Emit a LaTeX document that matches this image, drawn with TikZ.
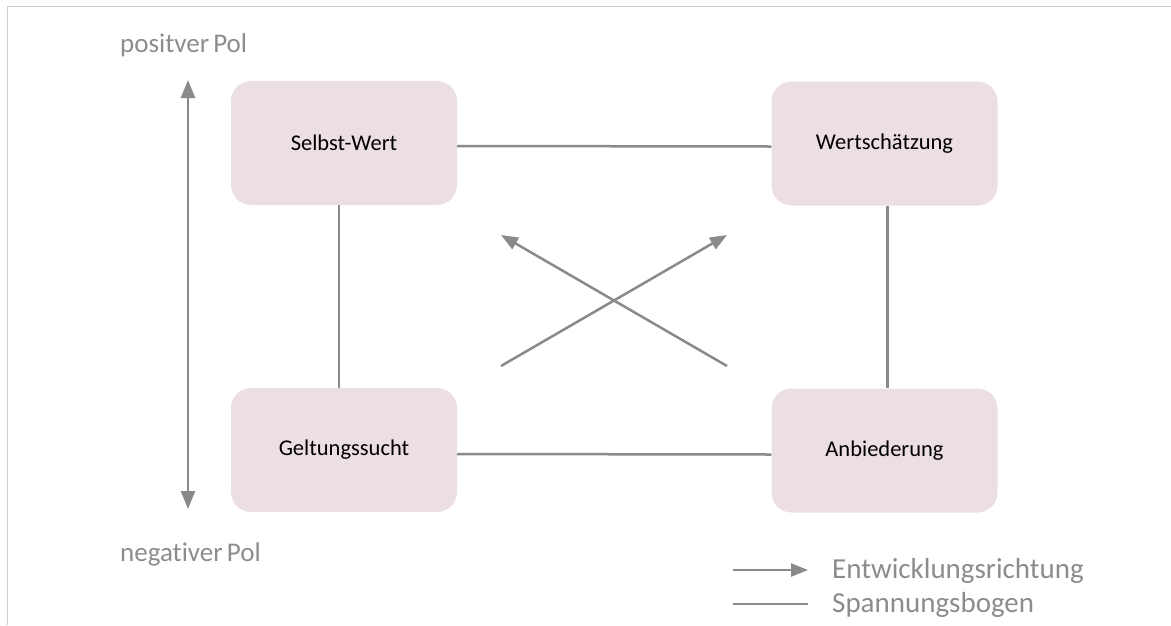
\documentclass[tikz,border=0pt]{standalone}
\usepackage{fontspec}
\setmainfont{Carlito}[Ligatures=NoCommon]
\usetikzlibrary{arrows.meta}
\definecolor{boxpink}{RGB}{236,223,225}
\definecolor{linegray}{RGB}{138,138,138}
\definecolor{textgray}{RGB}{140,140,140}
\definecolor{framegray}{RGB}{206,206,206}

\begin{document}
\begin{tikzpicture}
  [x=1pt, y=-1pt,
   box/.style={rectangle, rounded corners=20pt, fill=boxpink,
     minimum width=226pt, minimum height=124pt,
     font=\fontsize{22.5}{27}\selectfont},
   bow/.style={draw=linegray, line width=2.5pt},
   dev/.style={bow, -{Triangle[length=17pt,width=13pt]}},
   pole/.style={bow, {Triangle[length=18pt,width=14pt]}-{Triangle[length=18pt,width=14pt]}},
   pol/.style={anchor=base west, inner sep=0pt, text=textgray,
     font=\fontsize{27}{32}\selectfont},
   legend/.style={anchor=base west, inner sep=0pt, text=textgray,
     font=\fontsize{29}{34}\selectfont}]
  \useasboundingbox (0,0) rectangle (1171,625);
  \draw[framegray, line width=1.5pt] (1171,6.5) -- (7.5,6.5) -- (7.5,625);
    % the four poles
    \foreach \n/\x/\y/\t in {sw/344/143/Selbst-Wert,ws/884.5/143.5/Wertschätzung,
                  gs/344/450/Geltungssucht,an/884.5/450.5/Anbiederung}{
      \node[box] (\n) at (\x,\y) {\t}; }
    % tension lines
    \draw[bow] ([yshift=-3pt]sw.east) -- ([yshift=-3pt]ws.west);
    \draw[bow] ([yshift=-4pt]gs.east) -- ([yshift=-4pt]an.west);
    \draw[bow] ([xshift=-5pt]sw.south) -- ([xshift=-5pt]gs.north);
    \draw[bow] ([xshift=3pt]ws.south) -- ([xshift=3pt]an.north);
    % development directions
    \foreach \n/\x/\y in {gl/501/366,wr/727/235,ar/727/366,sl/501/235}{
      \coordinate (\n) at (\x,\y); }
    \draw[dev] (gl) -- (wr);
    \draw[dev] (ar) -- (sl);
    % positive / negative pole
    \node[pol] (pp) at (120,52.5) {positver\hspace{-2pt} Pol};
    \node[pol] (np) at (120,561.5) {negativer\hspace{-2pt} Pol};
    \coordinate (pt) at (188,80);
    \coordinate (pb) at (188,509);
    \draw[pole] (pb) -- (pt);
    % legend
    \foreach \n/\x/\y in {e1/733/570,e2/808/570,s1/733/604,s2/808/604}{
      \coordinate (\n) at (\x,\y); }
    \draw[dev] (e1) -- (e2);
    \draw[bow] (s1) -- (s2);
    \node[legend] (le) at (832,578) {Entwicklungsrichtung};
    \node[legend] (ls) at (832,612) {Spannungsbogen};
\end{tikzpicture}
\end{document}
